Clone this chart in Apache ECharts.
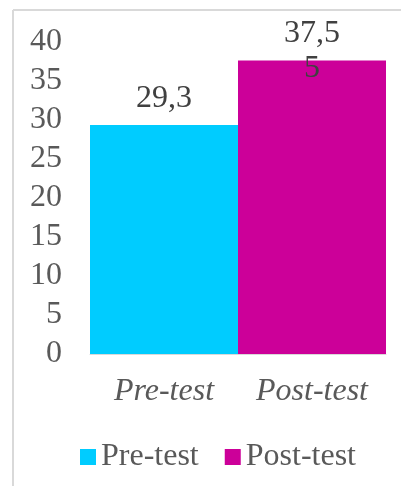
<!DOCTYPE html>
<html>
<head>
<meta charset="utf-8">
<script src="https://cdn.jsdelivr.net/npm/echarts@6/dist/echarts.min.js"></script>
<style>
  html, body { margin: 0; padding: 0; background: #fff; }
  #chart { width: 401px; height: 486px; }
</style>
</head>
<body>
<div id="chart"></div>
<script>
// Test phases shown on the category axis
const categories = ['Pre-test', 'Post-test'];
// Mean scores per phase
const preTest = [29.3, null];
const postTest = [null, 37.55];
// Series names for the legend
const seriesNames = ['Pre-test', 'Post-test'];

const FONT = '"Liberation Serif", "Times New Roman", serif';
const TEXT = '#595959';

const chart = echarts.init(document.getElementById('chart'), null, { renderer: 'canvas' });

// Decimal comma formatting for the value labels
const commaLabel = p => (p.value == null ? '' : String(p.value).replace('.', ','));

const labelStyle = {
  show: true,
  position: 'top',
  verticalAlign: 'top',
  distance: 44,
  formatter: commaLabel,
  fontFamily: FONT,
  fontSize: 32,
  lineHeight: 35,
  color: '#404040',
  width: 66,
  overflow: 'breakAll',
  align: 'center'
};

chart.setOption({
  animation: false,
  backgroundColor: '#fff',
  grid: { left: 90, right: 15, top: 41.4, bottom: 132, containLabel: false },
  legend: {
    data: seriesNames,
    left: 75,
    top: 436,
    itemWidth: 16,
    itemHeight: 16,
    itemGap: 26,
    icon: 'rect',
    textStyle: { fontFamily: FONT, fontSize: 32, color: TEXT }
  },
  xAxis: {
    type: 'category',
    data: categories,
    axisLine: { lineStyle: { color: '#d9d9d9', width: 1 } },
    axisTick: { show: false },
    axisLabel: {
      fontFamily: FONT, fontSize: 32, fontStyle: 'italic', color: TEXT, margin: 22
    }
  },
  yAxis: {
    type: 'value',
    min: 0,
    max: 40,
    interval: 5,
    splitLine: { show: false },
    axisLine: { show: false },
    axisTick: { show: false },
    axisLabel: { fontFamily: FONT, fontSize: 32, color: TEXT, margin: 28 }
  },
  graphic: [
    { type: 'line', shape: { x1: 13, y1: 10, x2: 401, y2: 10 }, style: { stroke: '#d9d9d9', lineWidth: 2 } },
    { type: 'line', shape: { x1: 13, y1: 10, x2: 13, y2: 486 }, style: { stroke: '#d9d9d9', lineWidth: 2 } }
  ],
  series: [
    {
      name: seriesNames[0], type: 'bar', stack: 'score', data: preTest,
      barCategoryGap: '0%',
      itemStyle: { color: '#00CCFF' },
      label: labelStyle
    },
    {
      name: seriesNames[1], type: 'bar', stack: 'score', data: postTest,
      barCategoryGap: '0%',
      itemStyle: { color: '#CC0099' },
      label: labelStyle
    }
  ]
});
</script>
</body>
</html>
